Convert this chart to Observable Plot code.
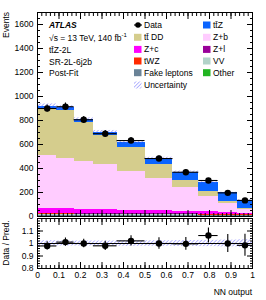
<!DOCTYPE html>
<html><head><meta charset="utf-8">
<script src="https://cdn.jsdelivr.net/npm/d3@7"></script>
<script src="https://cdn.jsdelivr.net/npm/@observablehq/plot@0.6"></script>
<style>
body{margin:0;background:#fff;font-family:"Liberation Sans",Arial,sans-serif;}
#wrap{position:relative;width:266px;height:300px;overflow:hidden;background:#fff}
#wrap > div > svg{display:block}
#overlay{position:absolute;left:0;top:0;pointer-events:none}
</style></head>
<body>
<svg width="0" height="0" style="position:absolute">
  <defs>
    <pattern id="hatch" patternUnits="userSpaceOnUse" width="2.6" height="2.6" patternTransform="rotate(45)">
      <line x1="0" y1="0" x2="0" y2="2.6" stroke="#5a5aff" stroke-width="0.9"/>
    </pattern>
  </defs>
</svg>
<div id="wrap">
  <div id="main"></div>
  <div id="ratio"></div>
</div>
<script>
// ---------- data ----------
const binEdges = [0, 0.09, 0.17, 0.26, 0.37, 0.5, 0.63, 0.75, 0.84, 0.93, 1.0];
const dataCounts = [900, 915, 806, 690, 633, 483, 369, 300, 197, 134];
const dataErrors = [30, 30, 28, 26, 25, 22, 19, 17, 14, 12];
const relUncertainty = [0.022, 0.02, 0.02, 0.02, 0.022, 0.022, 0.024, 0.025, 0.027, 0.03];

// stack order: bottom -> top
const sampleNames = ["Other", "Fake leptons", "VV", "tWZ", "Z+l", "Z+c", "Z+b", "tt\u0304 DD", "tt\u0304Z"];
const sampleColors = ["#22b422", "#6a8397", "#b2d3c9", "#ff2a00", "#990099", "#ff00ff", "#ffccff", "#d5cd8d", "#0a64ff"];
const otherYield = [4, 4, 4, 4, 4, 4, 4, 4, 4, 4];
const fakeYield  = [6, 6, 5, 5, 5, 4, 4, 3, 3, 2];
const vvYield    = [8, 8, 7, 7, 6, 5, 5, 4, 3, 2];
const twzYield   = [4, 4, 4, 4, 5, 5, 5, 6, 6, 6];
const zlYield    = [6, 6, 5, 5, 4, 4, 3, 3, 2, 2];
const zcYield    = [36, 38, 35, 33, 30, 26, 22, 18, 14, 10];
const zbYield    = [444, 420, 398, 372, 321, 269, 196, 129, 74, 30];
const ttddYield  = [388, 397, 323, 243, 200, 116, 63, 44, 19, 8];
const ttzYield   = [22, 22, 25, 30, 45, 50, 68, 71, 72, 72];
const sampleYields = [otherYield, fakeYield, vvYield, twzYield, zlYield, zcYield, zbYield, ttddYield, ttzYield];

// legend layout (row-major, 2 columns)
const legendOrder = ["Data", "tt\u0304Z", "tt\u0304 DD", "Z+b", "Z+c", "Z+l", "tWZ", "VV", "Fake leptons", "Other", "Uncertainty"];

const yTicksMain = [0, 200, 400, 600, 800, 1000, 1200, 1400, 1600];
const yTicksRatio = [0.8, 0.9, 1, 1.1];
const xTicks = [0, 0.1, 0.2, 0.3, 0.4, 0.5, 0.6, 0.7, 0.8, 0.9, 1];

// ---------- derived ----------
const nBins = dataCounts.length;
const bins = d3.range(nBins).map(i => {
  const pred = d3.sum(sampleYields, s => s[i]);
  return {
    x1: binEdges[i], x2: binEdges[i + 1], xc: (binEdges[i] + binEdges[i + 1]) / 2,
    data: dataCounts[i], err: dataErrors[i], pred, u: relUncertainty[i],
    ratio: dataCounts[i] / pred, rerr: dataErrors[i] / pred
  };
});
const stackRows = [];
sampleNames.forEach((name, k) => sampleYields[k].forEach((v, i) =>
  stackRows.push({sample: name, x1: binEdges[i], x2: binEdges[i + 1], y: v})));

const W = 266, ML = 37, MR = 14;
const font = {fontSize: "8.5px", fontFamily: "'Liberation Sans', Arial, sans-serif", background: "transparent", overflow: "visible"};
const minor = (a, b, s) => d3.range(Math.round((b - a) / s) + 1).map(i => +(a + i * s).toFixed(4));
const plain = d => String(d);

// ---------- main panel ----------
const main = Plot.plot({
  width: W, height: 217, marginTop: 12, marginBottom: 1, marginLeft: ML, marginRight: MR,
  style: font,
  x: {domain: [0, 1]},
  y: {domain: [0, 1700]},
  color: {domain: sampleNames, range: sampleColors},
  marks: [
    Plot.rectY(stackRows, {x1: "x1", x2: "x2", y: "y", fill: "sample", shapeRendering: "crispEdges"}),
    Plot.rect(bins, {x1: "x1", x2: "x2", y1: d => d.pred * (1 - d.u), y2: d => d.pred * (1 + d.u), fill: "url(#hatch)"}),
    Plot.ruleY(bins, {x1: "x1", x2: "x2", y: "data", stroke: "black", strokeWidth: 1.1}),
    Plot.ruleX(bins, {x: "xc", y1: d => d.data - d.err, y2: d => d.data + d.err, stroke: "black", strokeWidth: 1.1}),
    Plot.dot(bins, {x: "xc", y: "data", r: 3.2, fill: "black", stroke: null}),
    Plot.frame({stroke: "black", strokeWidth: 1}),
    Plot.axisY({ticks: yTicksMain, tickSize: 0, tickPadding: 4, label: null, tickFormat: plain}),
    Plot.axisY({ticks: yTicksMain, tickSize: -6, tickFormat: () => "", label: null}),
    Plot.axisY({ticks: minor(0, 1700, 50), tickSize: -3, tickFormat: () => "", label: null}),
    Plot.axisY({anchor: "right", ticks: yTicksMain, tickSize: -6, tickFormat: () => "", label: null}),
    Plot.axisY({anchor: "right", ticks: minor(0, 1700, 50), tickSize: -3, tickFormat: () => "", label: null}),
    Plot.axisX({anchor: "top", ticks: xTicks, tickSize: -6, tickFormat: () => "", label: null}),
    Plot.axisX({anchor: "top", ticks: minor(0, 1, 0.02), tickSize: -3, tickFormat: () => "", label: null}),
    Plot.axisX({anchor: "bottom", ticks: xTicks, tickSize: -6, tickFormat: () => "", label: null}),
    Plot.axisX({anchor: "bottom", ticks: minor(0, 1, 0.02), tickSize: -3, tickFormat: () => "", label: null})
  ]
});
document.getElementById("main").appendChild(main);

// ---------- ratio panel ----------
const ratio = Plot.plot({
  width: W, height: 83, marginTop: 1, marginBottom: 32, marginLeft: ML, marginRight: MR,
  style: font,
  x: {domain: [0, 1]},
  y: {domain: [0.8, 1.2]},
  marks: [
    Plot.rect(bins, {x1: "x1", x2: "x2", y1: d => 1 - d.u, y2: d => 1 + d.u, fill: "url(#hatch)"}),
    Plot.ruleY([1], {stroke: "black", strokeWidth: 1}),
    Plot.ruleY(bins, {x1: "x1", x2: "x2", y: "ratio", stroke: "black", strokeWidth: 1.1}),
    Plot.ruleX(bins, {x: "xc", y1: d => d.ratio - d.rerr, y2: d => d.ratio + d.rerr, stroke: "black", strokeWidth: 1.1}),
    Plot.dot(bins, {x: "xc", y: "ratio", r: 3.2, fill: "black", stroke: null}),
    Plot.frame({stroke: "black", strokeWidth: 1}),
    Plot.axisY({ticks: yTicksRatio, tickSize: 0, tickPadding: 4, label: null, tickFormat: plain}),
    Plot.axisY({ticks: [0.8, 0.9, 1, 1.1, 1.2], tickSize: -6, tickFormat: () => "", label: null}),
    Plot.axisY({ticks: minor(0.8, 1.2, 0.02), tickSize: -3, tickFormat: () => "", label: null}),
    Plot.axisY({anchor: "right", ticks: [0.8, 0.9, 1, 1.1, 1.2], tickSize: -6, tickFormat: () => "", label: null}),
    Plot.axisY({anchor: "right", ticks: minor(0.8, 1.2, 0.02), tickSize: -3, tickFormat: () => "", label: null}),
    Plot.axisX({anchor: "bottom", ticks: xTicks, tickSize: 0, tickPadding: 3, label: null, tickFormat: plain}),
    Plot.axisX({anchor: "bottom", ticks: xTicks, tickSize: -6, tickFormat: () => "", label: null}),
    Plot.axisX({anchor: "bottom", ticks: minor(0, 1, 0.02), tickSize: -3, tickFormat: () => "", label: null}),
    Plot.axisX({anchor: "top", ticks: xTicks, tickSize: -6, tickFormat: () => "", label: null}),
    Plot.axisX({anchor: "top", ticks: minor(0, 1, 0.02), tickSize: -3, tickFormat: () => "", label: null})
  ]
});
document.getElementById("ratio").appendChild(ratio);

// ---------- overlay text & legend ----------
const ns = "http://www.w3.org/2000/svg";
const ov = document.createElementNS(ns, "svg");
ov.setAttribute("id", "overlay");
ov.setAttribute("width", W); ov.setAttribute("height", 300);
ov.setAttribute("font-family", "'Liberation Sans', Arial, sans-serif");
ov.setAttribute("font-size", "8.5");
document.getElementById("wrap").appendChild(ov);
function el(tag, attrs, text) {
  const e = document.createElementNS(ns, tag);
  for (const k in attrs) e.setAttribute(k, attrs[k]);
  if (text != null) e.textContent = text;
  ov.appendChild(e);
  return e;
}
el("text", {transform: "translate(9,12) rotate(-90)", "text-anchor": "end"}, "Events");
el("text", {transform: "translate(9,243) rotate(-90)", "text-anchor": "middle"}, "Data / Pred.");
el("text", {x: 252, y: 295, "text-anchor": "end"}, "NN output");

el("text", {x: 49, y: 28, "font-weight": "bold", "font-style": "italic"}, "ATLAS");
const sq = el("text", {x: 49, y: 40.5});
sq.innerHTML = '<tspan>\u221As = 13 TeV, 140 fb</tspan><tspan dy="-3.5" font-size="6">-1</tspan>';
el("text", {x: 49, y: 53}, "tt\u0304Z-2L");
el("text", {x: 49, y: 64.5}, "SR-2L-6j2b");
el("text", {x: 49, y: 76}, "Post-Fit");

const rowsY = [25, 37.3, 49.4, 61, 72.7, 85];
const colX = [134, 203];
legendOrder.forEach((name, idx) => {
  const r = Math.floor(idx / 2), c = idx % 2;
  const x = colX[c], y = rowsY[r];
  if (name === "Data") {
    el("line", {x1: x, x2: x + 8, y1: y, y2: y, stroke: "black", "stroke-width": 1.1});
    el("circle", {cx: x + 4, cy: y, r: 2.8, fill: "black"});
  } else if (name === "Uncertainty") {
    el("rect", {x: x, y: y - 3.5, width: 7.5, height: 7, fill: "url(#hatch)"});
  } else {
    el("rect", {x: x, y: y - 3.5, width: 7.5, height: 7, fill: sampleColors[sampleNames.indexOf(name)]});
  }
  el("text", {x: x + 10, y: y + 3}, name);
});
</script>
</body></html>
